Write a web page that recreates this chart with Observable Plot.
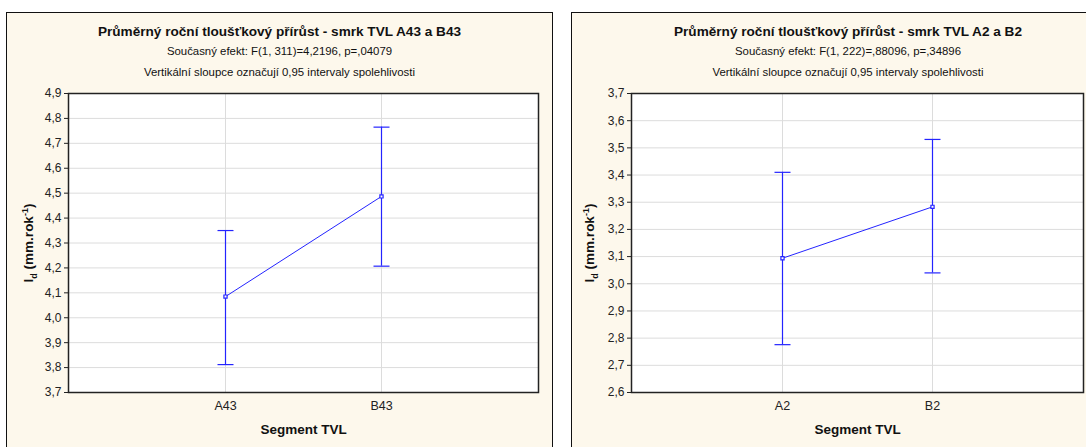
<!DOCTYPE html>
<html>
<head>
<meta charset="utf-8">
<script src="https://cdn.jsdelivr.net/npm/d3@7"></script>
<script src="https://cdn.jsdelivr.net/npm/@observablehq/plot@0.6"></script>
<style>
  html, body { margin: 0; padding: 0; background: #ffffff; overflow: hidden; }
  body { width: 1086px; height: 447px; position: relative; font-family: "Liberation Sans", Arial, sans-serif; }
  .panel { position: absolute; background: #fdf8ec; border: 1.6px solid #111; box-sizing: border-box; }
  .t { position: absolute; text-align: center; color: #111; white-space: nowrap; line-height: 1; }
  .t1 { font-size: 13.6px; font-weight: bold; }
  .t2 { font-size: 11.4px; }
  .ylab { position: absolute; font-size: 13.5px; font-weight: bold; white-space: nowrap; color: #111;
          transform: translate(-50%, -50%) rotate(-90deg); line-height: 1; }
  .ylab sub, .ylab sup { font-size: 9px; }
  .chart { position: absolute; }
</style>
</head>
<body>
<script>
// Segment TVL A43 / B43: means and 0.95 confidence limits
const segmentsA = ["A43", "B43"];
const meansA = [4.085, 4.487];
const lowA = [3.812, 4.207];
const highA = [4.35, 4.765];
const ticksA = [3.7, 3.8, 3.9, 4.0, 4.1, 4.2, 4.3, 4.4, 4.5, 4.6, 4.7, 4.8, 4.9];

// Segment TVL A2 / B2: means and 0.95 confidence limits
const segmentsB = ["A2", "B2"];
const meansB = [3.094, 3.283];
const lowB = [2.776, 3.04];
const highB = [3.41, 3.531];
const ticksB = [2.6, 2.7, 2.8, 2.9, 3.0, 3.1, 3.2, 3.3, 3.4, 3.5, 3.6, 3.7];

const titleA = "Průměrný roční tloušťkový přírůst - smrk TVL A43 a B43";
const effectA = "Současný efekt: F(1, 311)=4,2196, p=,04079";
const titleB = "Průměrný roční tloušťkový přírůst - smrk TVL A2 a B2";
const effectB = "Současný efekt: F(1, 222)=,88096, p=,34896";
const noteText = "Vertikální sloupce označují 0,95 intervaly spolehlivosti";
const xLabel = "Segment TVL";

const blue = "#2424ff";
const fmt = d => d3.format(".1f")(d).replace(".", ",");

// horizontal whisker cap drawn as a symbol
const cap = { draw(ctx) { ctx.moveTo(-8, 0); ctx.lineTo(8, 0); } };

function el(tag, cls, css, html) {
  const e = document.createElement(tag);
  if (cls) e.className = cls;
  Object.assign(e.style, css);
  if (html != null) e.innerHTML = html;
  document.body.appendChild(e);
  return e;
}

function panel({left, width, segments, means, low, high, ticks, title, effect, svgLeft, svgWidth, marginLeft, marginRight, ylabX}) {
  el("div", "panel", {left: left + "px", top: "12px", width: width + "px", height: "460px"});
  const c = left + width / 2;
  el("div", "t t1", {left: (c - 300) + "px", width: "600px", top: "25px"}, title);
  el("div", "t t2", {left: (c - 300) + "px", width: "600px", top: "46px"}, effect);
  el("div", "t t2", {left: (c - 300) + "px", width: "600px", top: "67px"}, noteText);
  el("div", "ylab", {left: ylabX + "px", top: "243px"}, "I<sub>d</sub> (mm.rok<sup>-1</sup>)");

  const data = segments.map((s, i) => ({segment: s, mean: means[i], low: low[i], high: high[i]}));
  const chart = Plot.plot({
    width: svgWidth,
    height: 367,
    marginLeft, marginRight,
    marginTop: 13,
    marginBottom: 55,
    style: {background: "transparent", fontFamily: "Liberation Sans, Arial, sans-serif", fontSize: "12px", color: "#222"},
    x: {type: "point", domain: segments, padding: 1, label: null},
    y: {domain: [ticks[0], ticks[ticks.length - 1]], label: null},
    marks: [
      Plot.frame({fill: "white", stroke: "none"}),
      Plot.ruleY(ticks, {stroke: "#dcdcdc", strokeWidth: 1}),
      Plot.ruleX(segments, {stroke: "#dcdcdc", strokeWidth: 1}),
      Plot.frame({stroke: "#222", strokeWidth: 1.5}),
      Plot.axisY({ticks, tickFormat: fmt, tickSize: 4, tickPadding: 3, label: null}),
      Plot.axisX({tickSize: 0, tickPadding: 9, label: null, fontSize: 12.5}),
      Plot.ruleX(data, {x: "segment", y1: "low", y2: "high", stroke: blue, strokeWidth: 1.2}),
      Plot.dot(data, {x: "segment", y: "low", symbol: cap, stroke: blue, strokeWidth: 1.2}),
      Plot.dot(data, {x: "segment", y: "high", symbol: cap, stroke: blue, strokeWidth: 1.2}),
      Plot.line(data, {x: "segment", y: "mean", stroke: blue, strokeWidth: 1}),
      Plot.dot(data, {x: "segment", y: "mean", symbol: "square", r: 1.8, stroke: blue, fill: "white", strokeWidth: 1.2}),
      Plot.text([xLabel], {frameAnchor: "bottom", dy: 41, fontWeight: "bold", fontSize: 13.5, fill: "#111"})
    ]
  });
  chart.classList.add("chart");
  chart.style.left = svgLeft + "px";
  chart.style.top = "80px";
  document.body.appendChild(chart);
}

panel({left: 6, width: 547, segments: segmentsA, means: meansA, low: lowA, high: highA, ticks: ticksA,
       title: titleA, effect: effectA, svgLeft: 0, svgWidth: 545, marginLeft: 68, marginRight: 7, ylabX: 30});
panel({left: 571, width: 554, segments: segmentsB, means: meansB, low: lowB, high: highB, ticks: ticksB,
       title: titleB, effect: effectB, svgLeft: 560, svgWidth: 526, marginLeft: 71, marginRight: 3, ylabX: 591});
</script>
</body>
</html>
